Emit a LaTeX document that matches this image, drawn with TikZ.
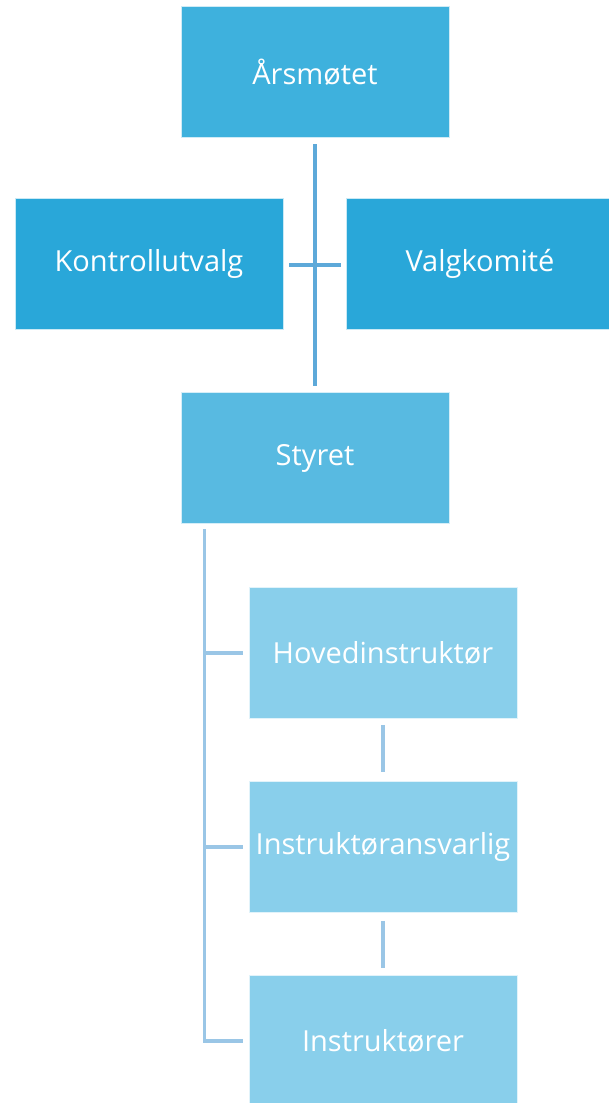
\documentclass[tikz,border=0pt]{standalone}
\usepackage{fontspec}
\setmainfont{Open Sans}
\usetikzlibrary{calc}

\definecolor{aarscol}{HTML}{3EB1DD}
\definecolor{kontcol}{HTML}{29A7D9}
\definecolor{styrcol}{HTML}{58BAE1}
\definecolor{instcol}{HTML}{89CFEB}
\definecolor{topline}{HTML}{5DA9D9}
\definecolor{lowline}{HTML}{9AC6E6}

\tikzset{
    orgbox/.style={rectangle, draw=white!75!#1, line width=0.6pt, fill=#1, text=white,
        minimum width=268pt, minimum height=131pt, inner sep=0pt,
        font=\fontsize{29}{34}\selectfont},
    upline/.style={draw=topline, line width=4pt},
    subline/.style={draw=lowline, line width=3.5pt}
}

\begin{document}
\begin{tikzpicture}[x=1pt, y=-1pt]
        \useasboundingbox (0,0) rectangle (608,1103);

        \node[orgbox=aarscol] (aars) at (315,72) {Årsmøtet};
        \node[orgbox=kontcol] (kont) at (149,263.5) {Kontrollutvalg};
        \node[orgbox=kontcol] (valg) at (480,263.5) {Valgkomité};
        \node[orgbox=styrcol] (styr) at (315,458) {Styret};
        \node[orgbox=instcol] (hoved) at (383,653) {Hovedinstruktør};
        \node[orgbox=instcol] (ansv) at (383,847) {Instruktøransvarlig};
        \node[orgbox=instcol] (instr) at (383,1041) {Instruktører};

        \draw[upline, shorten <=6.5pt, shorten >=6.5pt] ([xshift=-0.5pt]aars.south) -- ([xshift=-0.5pt]styr.north);
        \draw[upline, shorten <=6pt, shorten >=5pt] ([yshift=-1.5pt]kont.east) -- ([yshift=-1.5pt]valg.west);

        \coordinate (stem) at ($(styr.south west)+(24,5.5)$);
        \draw[subline] (stem) |- ([xshift=-5.5pt]instr.west);
        \draw[subline] (stem |- hoved.west) -- ([xshift=-5.5pt]hoved.west);
        \draw[subline] (stem |- ansv.west) -- ([xshift=-5.5pt]ansv.west);

        \draw[subline, shorten <=6pt, shorten >=9pt] (hoved.south) -- (ansv.north);
        \draw[subline, shorten <=8pt, shorten >=7pt] (ansv.south) -- (instr.north);
    \end{tikzpicture}
\end{document}
